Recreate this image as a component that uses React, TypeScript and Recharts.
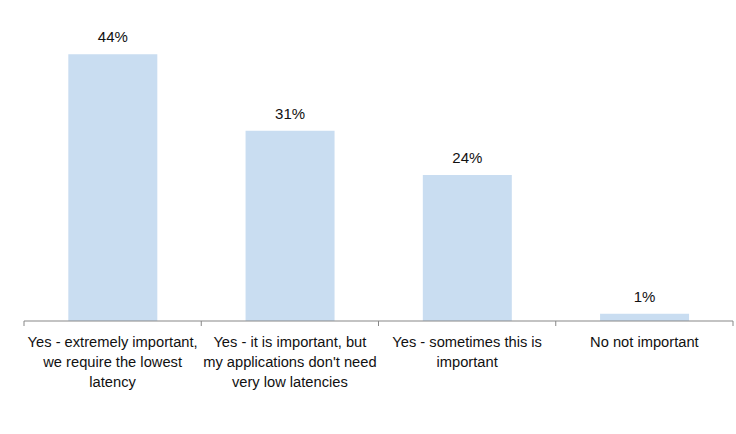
import React from "react";
import { BarChart, Bar, XAxis, YAxis, LabelList } from "recharts";

const categories = [
  "Yes - extremely important,\nwe require the lowest\nlatency",
  "Yes - it is important, but\nmy applications don't need\nvery low latencies",
  "Yes - sometimes this is\nimportant",
  "No not important",
];
const shares = [0.44, 0.314, 0.241, 0.012];

const data = categories.map((c, i) => ({ name: c, value: shares[i] }));

const FONT = "'Liberation Sans', Arial, sans-serif";
const AXIS = "#878787";

const Tick = (props: any) => {
  const { x, y, payload, index, visibleTicksCount } = props;
  const half = payload && payload.offset ? payload.offset : 88.6;
  const lines = String(payload.value).split("\n");
  const top = y - 8;
  return (
    <g>
      <line x1={x - half} y1={top} x2={x - half} y2={top + 5} stroke={AXIS} strokeWidth={1} />
      {index === (visibleTicksCount ?? 4) - 1 && (
        <line x1={x + half} y1={top} x2={x + half} y2={top + 5} stroke={AXIS} strokeWidth={1} />
      )}
      <text x={x} y={top + 26} textAnchor="middle" fontFamily={FONT} fontSize={14.7} fill="#111">
        {lines.map((l, i) => (
          <tspan key={i} x={x} dy={i === 0 ? 0 : 20}>
            {l}
          </tspan>
        ))}
      </text>
    </g>
  );
};

export default function App() {
  return (
    <div style={{ position: "absolute", left: 0, top: 0, background: "#fff" }}>
      <BarChart
        width={736}
        height={434}
        data={data}
        margin={{ top: 18, right: 3, bottom: 0, left: 24 }}
        barCategoryGap="25%"
      >
        <YAxis hide domain={[0, 0.5]} />
        <XAxis
          dataKey="name"
          height={113}
          interval={0}
          axisLine={{ stroke: AXIS, strokeWidth: 1 }}
          tickLine={false}
          tick={<Tick />}
        />
        <Bar dataKey="value" fill="#C9DDF1" isAnimationActive={false}>
          <LabelList
            dataKey="value"
            position="top"
            offset={12}
            formatter={(v: any) => `${Math.round(v * 100)}%`}
            style={{ fontFamily: FONT, fontSize: 15, fill: "#111" }}
          />
        </Bar>
      </BarChart>
    </div>
  );
}
